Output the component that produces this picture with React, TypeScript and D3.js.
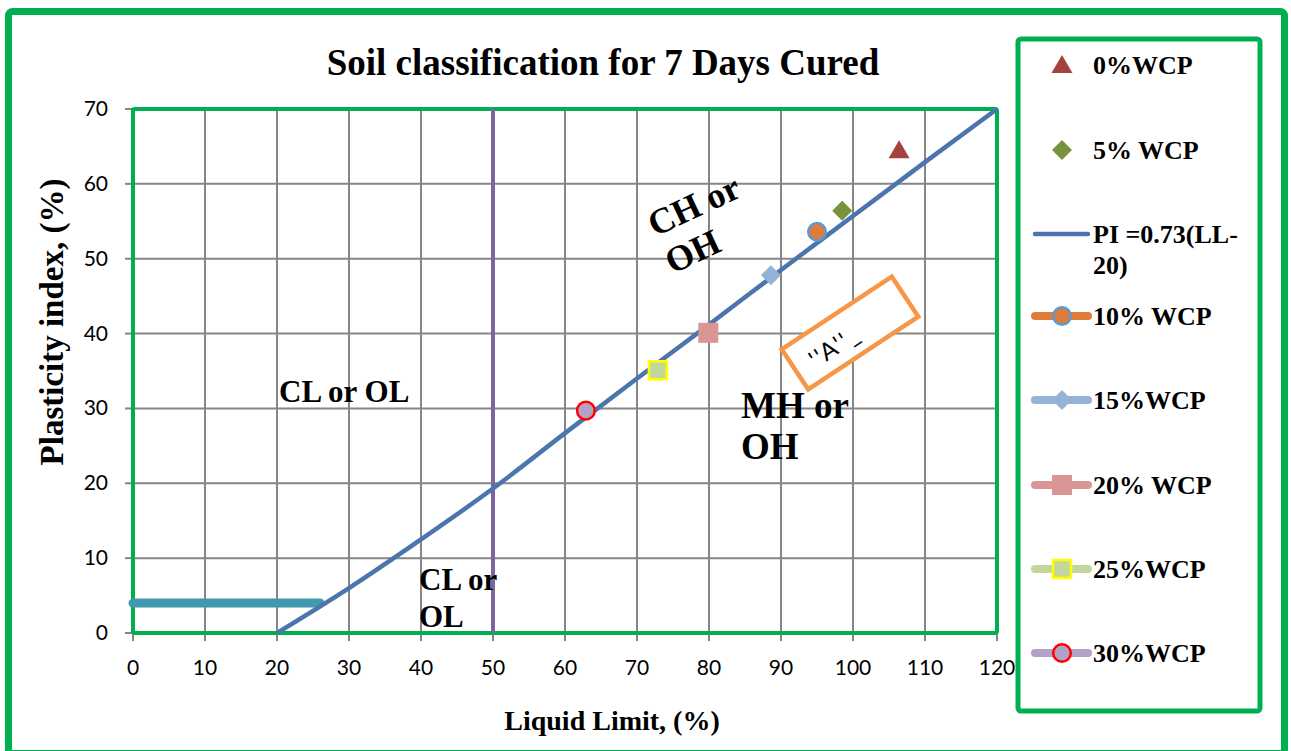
import * as d3 from "d3";
import * as React from "react";

// A-line (PI = 0.73(LL-20)) as plotted
const aLineLL = [20, 30, 40, 50, 60, 70, 80, 90, 100, 110, 120];
const aLinePI = [0, 6, 12.5, 19.3, 26.7, 34, 41.2, 48.5, 55.7, 62.9, 70];

// horizontal line at PI = 4 and vertical LL = 50 line
const hLineLL = [0, 26];
const hLinePI = [4, 4];
const vLineLL = [50, 50];
const vLinePI = [0, 70];

const seriesNames = ["0%WCP", "5% WCP", "10% WCP", "15%WCP", "20% WCP", "25%WCP", "30%WCP"];
const seriesLL = [106.4, 98.5, 95, 88.6, 79.9, 72.9, 62.9];
const seriesPI = [64.5, 56.4, 53.6, 47.8, 40.1, 35.1, 29.7];
const seriesShape = ["triangle", "diamond", "circle", "diamond", "square", "square", "circle"];
const seriesFill = ["#a5413e", "#77933c", "#e07c39", "#95b3d7", "#d99694", "#c3d69b", "#b3a2c7"];
const seriesStroke = ["none", "none", "#5b9bd5", "none", "none", "#ffff00", "#ff0000"];
const seriesLine = [null, null, "#e07c39", "#95b3d7", "#d99694", "#c3d69b", "#b3a2c7"];

const xTicks = [0, 10, 20, 30, 40, 50, 60, 70, 80, 90, 100, 110, 120];
const yTicks = [0, 10, 20, 30, 40, 50, 60, 70];

const green = "#00b050";
const grid = "#868686";
const serif = "'Liberation Serif', 'Times New Roman', serif";
const sans = "Lato, 'Open Sans', sans-serif";

function Marker({ shape, fill, stroke, cx, cy }) {
  if (shape === "triangle") {
    const p = `${cx},${cy - 10} ${cx + 10.5},${cy + 8} ${cx - 10.5},${cy + 8}`;
    return <polygon points={p} fill={fill} />;
  }
  if (shape === "diamond") {
    const r = 10;
    const p = `${cx},${cy - r} ${cx + r},${cy} ${cx},${cy + r} ${cx - r},${cy}`;
    return <polygon points={p} fill={fill} />;
  }
  if (shape === "square") {
    const h = stroke === "none" ? 10 : 9;
    return <rect x={cx - h} y={cy - h} width={2 * h} height={2 * h} fill={fill}
      stroke={stroke} strokeWidth={stroke === "none" ? 0 : 2.5} />;
  }
  return <circle cx={cx} cy={cy} r={8.8} fill={fill} stroke={stroke} strokeWidth={2.5} />;
}

export default function App() {
  const x = d3.scaleLinear().domain([0, 120]).range([133, 997]);
  const y = d3.scaleLinear().domain([0, 70]).range([633, 109]);

  const line = d3.line<number>().x((d, i) => x(aLineLL[i])).y((d, i) => y(aLinePI[i]))
    .curve(d3.curveMonotoneX);
  const aPath = line(aLineLL);

  const legendY = [65, 150, 234, 316, 400, 485, 569, 653];

  return (
    <div style={{ position: "absolute", left: 0, top: 0 }}>
      <svg width={1291} height={751} style={{ display: "block" }}>
        <rect x={0} y={0} width={1291} height={751} fill="#fff" />
        <rect x={8.5} y={11.5} width={1276} height={742} rx={4} fill="none" stroke={green} strokeWidth={7} />

        <text x={603} y={75} textAnchor="middle" fontFamily={serif} fontWeight="bold" fontSize={37}>
          Soil classification for 7 Days Cured
        </text>

        {/* grid */}
        {xTicks.slice(1, -1).map(t => (
          <line key={"gx" + t} x1={x(t)} x2={x(t)} y1={y(70)} y2={y(0)} stroke={grid} strokeWidth={2} />
        ))}
        {yTicks.slice(1, -1).map(t => (
          <line key={"gy" + t} x1={x(0)} x2={x(120)} y1={y(t)} y2={y(t)} stroke={grid} strokeWidth={2} />
        ))}
        {/* tick marks */}
        {xTicks.map(t => (
          <line key={"tx" + t} x1={x(t)} x2={x(t)} y1={y(0)} y2={y(0) + 8} stroke={grid} strokeWidth={2} />
        ))}
        {yTicks.map(t => (
          <line key={"ty" + t} x1={x(0) - 8} x2={x(0)} y1={y(t)} y2={y(t)} stroke={grid} strokeWidth={2} />
        ))}
        <line x1={x(0) - 1} x2={x(0) - 1} y1={y(70)} y2={y(0)} stroke={grid} strokeWidth={2} />
        <line x1={x(0)} x2={x(120)} y1={y(0) + 1} y2={y(0) + 1} stroke={grid} strokeWidth={2} />

        <rect x={x(0)} y={y(70)} width={x(120) - x(0)} height={y(0) - y(70)} rx={2}
          fill="none" stroke={green} strokeWidth={4} />

        {/* tick labels */}
        {xTicks.map(t => (
          <text key={"lx" + t} x={x(t)} y={675} textAnchor="middle" fontFamily={sans} fontSize={21}>{t}</text>
        ))}
        {yTicks.map(t => (
          <text key={"ly" + t} x={108} y={y(t) + 7} textAnchor="end" fontFamily={sans} fontSize={21}>{t}</text>
        ))}

        {/* axis titles */}
        <text x={612} y={730} textAnchor="middle" fontFamily={serif} fontWeight="bold" fontSize={28}>
          Liquid Limit, (%)
        </text>
        <text transform="translate(63,322) rotate(-90)" textAnchor="middle" fontFamily={serif}
          fontWeight="bold" fontSize={33}>
          Plasticity index, (%)
        </text>

        {/* reference lines */}
        <line x1={x(hLineLL[0])} x2={x(hLineLL[1])} y1={y(hLinePI[0])} y2={y(hLinePI[1])}
          stroke="#4198af" strokeWidth={9} strokeLinecap="round" />
        <line x1={x(vLineLL[0])} x2={x(vLineLL[1])} y1={y(vLinePI[0])} y2={y(vLinePI[1])}
          stroke="#8064a2" strokeWidth={4} />
        <path d={aPath} fill="none" stroke="#4a75ad" strokeWidth={4.5} />

        {/* zone labels */}
        <g transform="translate(655,237) rotate(-25)" fontFamily={serif} fontWeight="bold" fontSize={36}>
          <text x={0} y={0}>CH or</text>
          <text x={0} y={41}>OH</text>
        </g>
        <text x={279} y={402} fontFamily={serif} fontWeight="bold" fontSize={31}>CL or OL</text>
        <text x={419} y={590} fontFamily={serif} fontWeight="bold" fontSize={31}>CL or</text>
        <text x={419} y={627} fontFamily={serif} fontWeight="bold" fontSize={31}>OL</text>
        <text x={741} y={418} fontFamily={serif} fontWeight="bold" fontSize={37}>MH or</text>
        <text x={741} y={459} fontFamily={serif} fontWeight="bold" fontSize={37}>OH</text>

        <g transform="translate(850,333) rotate(-33.5)">
          <rect x={-66} y={-24} width={132} height={48} fill="#fff" stroke="#f79646" strokeWidth={4.5} />
          <text x={-20} y={11} textAnchor="middle" fontFamily={sans} fontSize={24} letterSpacing={2}>''A''_</text>
        </g>

        {/* data points */}
        {seriesNames.map((n, i) => (
          <Marker key={n} shape={seriesShape[i]} fill={seriesFill[i]} stroke={seriesStroke[i]}
            cx={x(seriesLL[i])} cy={y(seriesPI[i])} />
        ))}

        {/* legend */}
        <rect x={1018} y={39} width={242} height={672} rx={3} fill="#fff" stroke={green} strokeWidth={5} />
        {seriesNames.map((n, i) => {
          const ly = legendY[i < 2 ? i : i + 1];
          return (
            <g key={"lg" + n}>
              {seriesLine[i] && (
                <line x1={1035} x2={1088} y1={ly} y2={ly} stroke={seriesLine[i]} strokeWidth={8}
                  strokeLinecap="round" />
              )}
              <Marker shape={seriesShape[i]} fill={seriesFill[i]} stroke={seriesStroke[i]} cx={1062} cy={ly} />
              <text x={1093} y={ly + 9} fontFamily={serif} fontWeight="bold" fontSize={26}>{n}</text>
            </g>
          );
        })}
        <line x1={1035} x2={1088} y1={legendY[2]} y2={legendY[2]} stroke="#4a75ad" strokeWidth={4.5}
          strokeLinecap="round" />
        <text x={1093} y={legendY[2] + 9} fontFamily={serif} fontWeight="bold" fontSize={26}>PI =0.73(LL-</text>
        <text x={1093} y={legendY[2] + 40} fontFamily={serif} fontWeight="bold" fontSize={26}>20)</text>
      </svg>
    </div>
  );
}
